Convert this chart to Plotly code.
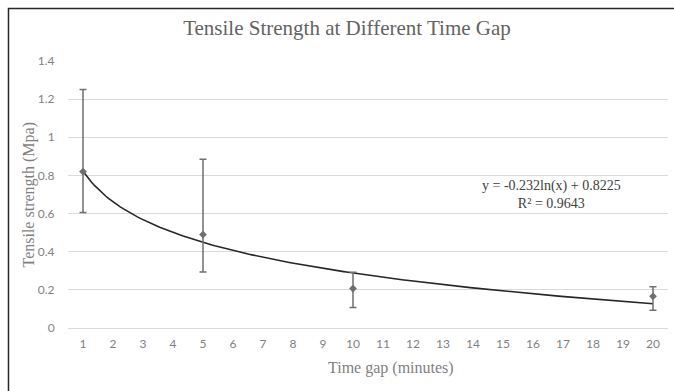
import numpy as np
import plotly.graph_objects as go

# Data
time_gap = [1, 5, 10, 20]
strength = [0.82, 0.49, 0.207, 0.166]
err_plus = [0.43, 0.395, 0.085, 0.05]
err_minus = [0.215, 0.197, 0.10, 0.073]
x_tick_labels = [str(i) for i in range(1, 21)]
y_ticks = [0, 0.2, 0.4, 0.6, 0.8, 1.0, 1.2, 1.4]
y_tick_labels = ["0", "0.2", "0.4", "0.6", "0.8", "1", "1.2", "1.4"]
trend_a = -0.232
trend_b = 0.8225
trend_r2 = 0.9643

trend_x = np.linspace(1, 20, 200)
trend_y = trend_a * np.log(trend_x) + trend_b

fig = go.Figure()
fig.add_trace(go.Scatter(
    x=trend_x, y=trend_y, mode="lines",
    line=dict(color="#262626", width=1.6), hoverinfo="skip", showlegend=False))
fig.add_trace(go.Scatter(
    x=time_gap, y=strength, mode="markers",
    marker=dict(symbol="diamond", size=6, color="#6f6f6f"),
    error_y=dict(type="data", symmetric=False, array=err_plus, arrayminus=err_minus,
                 color="#6f6f6f", thickness=1.5, width=3.5),
    showlegend=False))

serif = "Liberation Serif, Times New Roman, serif"
sans = "Lato, Liberation Sans, sans-serif"

fig.update_layout(
    width=674, height=391,
    margin=dict(l=68, r=6, t=61, b=63),
    paper_bgcolor="white", plot_bgcolor="white",
    title=dict(text="Tensile Strength at Different Time Gap",
               font=dict(family=serif, size=21, color="#636363"),
               xref="paper", x=(347 - 68) / 600, xanchor="center",
               yref="container", y=1 - 28 / 391, yanchor="middle"),
    xaxis=dict(range=[0.5, 20.5], tickvals=list(range(1, 21)), ticktext=x_tick_labels,
               showgrid=False, zeroline=False, showline=False,
               ticks="outside", ticklen=5, tickcolor="rgba(0,0,0,0)",
               tickfont=dict(family=sans, size=12, color="#7f7f7f")),
    yaxis=dict(range=[0, 1.4], tickvals=y_ticks, ticktext=y_tick_labels,
               showgrid=True, gridcolor="#d9d9d9", gridwidth=1,
               zeroline=True, zerolinecolor="#d9d9d9", zerolinewidth=1,
               showline=False, ticks="outside", ticklen=10, tickcolor="rgba(0,0,0,0)",
               tickfont=dict(family=sans, size=12, color="#7f7f7f")),
    annotations=[
        dict(text="Time gap (minutes)", xref="paper", yref="paper",
             x=(391 - 68) / 600, y=(328 - 368) / 267, xanchor="center", yanchor="middle",
             showarrow=False, font=dict(family=serif, size=16, color="#7f7f7f")),
        dict(text="Tensile strength (Mpa)", xref="paper", yref="paper",
             x=(28 - 68) / 600, y=0.5, xanchor="center", yanchor="middle", textangle=-90,
             showarrow=False, font=dict(family=serif, size=16, color="#7f7f7f")),
        dict(text=f"y = {trend_a}ln(x) + {trend_b}<br>R² = {trend_r2}",
             xref="paper", yref="paper", align="center",
             x=(551 - 68) / 600, y=(328 - 194) / 267, xanchor="center", yanchor="middle",
             showarrow=False, font=dict(family=serif, size=14, color="#404040")),
    ],
    shapes=[dict(type="rect", xref="paper", yref="paper",
                 x0=(8.5 - 68) / 600, x1=1.2, y0=-0.4, y1=(328 - 8.5) / 267,
                 line=dict(color="#262626", width=1.5), layer="above")],
)

fig.write_html("out.html", config={"displayModeBar": False},
               post_script="document.body.style.margin='0';")
